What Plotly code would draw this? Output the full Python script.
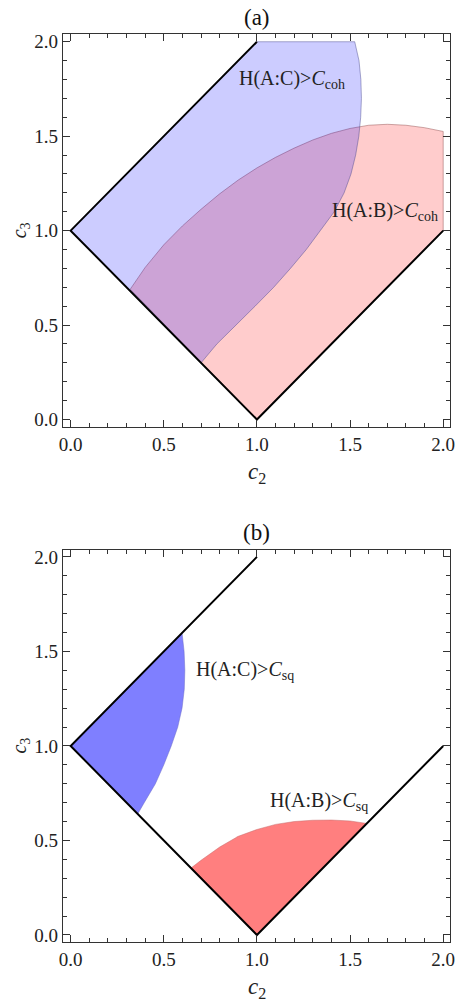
import plotly.graph_objects as go

# ---------------- data ----------------
# physical domain (vertices of the boundary lines)
domain_c2 = [1.0, 0.0, 1.0, 2.0]
domain_c3 = [2.0, 1.0, 0.0, 1.0]

# panel (a): boundary of H(A:B) > C_coh (upper curve, left -> right)
ab_coh_c2 = [0.32, 0.40, 0.50, 0.60, 0.70, 0.80, 0.90, 1.00, 1.10, 1.20, 1.30, 1.40,
             1.50, 1.60, 1.70, 1.80, 1.90, 2.00]
ab_coh_c3 = [0.69, 0.805, 0.925, 1.025, 1.113, 1.195, 1.268, 1.332, 1.388, 1.437, 1.48,
             1.515, 1.541, 1.558, 1.563, 1.558, 1.545, 1.525]

# panel (a): boundary of H(A:C) > C_coh (curve, top -> bottom)
ac_coh_c2 = [1.525, 1.548, 1.558, 1.561, 1.557, 1.547, 1.530, 1.505, 1.468, 1.415,
             1.34, 1.265, 1.18, 1.09, 0.99, 0.89, 0.785, 0.70]
ac_coh_c3 = [2.0, 1.9, 1.8, 1.7, 1.6, 1.5, 1.4, 1.3, 1.2, 1.1,
             1.0, 0.9, 0.8, 0.7, 0.6, 0.5, 0.4, 0.30]

# panel (b): boundary of H(A:C) > C_sq (curve, top -> bottom)
ac_sq_c2 = [0.598, 0.609, 0.613, 0.610, 0.598, 0.575, 0.54, 0.50, 0.455, 0.395, 0.36]
ac_sq_c3 = [1.598, 1.5, 1.4, 1.3, 1.2, 1.1, 1.0, 0.9, 0.8, 0.7, 0.64]

# panel (b): boundary of H(A:B) > C_sq (curve, left -> right)
ab_sq_c2 = [0.646, 0.70, 0.80, 0.90, 1.00, 1.10, 1.20, 1.30, 1.40, 1.50, 1.59]
ab_sq_c3 = [0.354, 0.395, 0.465, 0.522, 0.558, 0.585, 0.60, 0.607, 0.608, 0.603, 0.59]

tick_vals = [0.0, 0.5, 1.0, 1.5, 2.0]
tick_text = ["0.0", "0.5", "1.0", "1.5", "2.0"]

FONT = "Liberation Serif"

fig = go.Figure()

# ---------------- panel (a) ----------------
red_a_x = ab_coh_c2 + [domain_c2[3], domain_c2[2]] + [ab_coh_c2[0]]
red_a_y = ab_coh_c3 + [domain_c3[3], domain_c3[2]] + [ab_coh_c3[0]]
fig.add_trace(go.Scatter(x=red_a_x, y=red_a_y, fill="toself", mode="lines",
                         fillcolor="rgba(255,0,0,0.2)",
                         line=dict(color="rgba(140,70,70,0.45)", width=1),
                         xaxis="x", yaxis="y", hoverinfo="skip"))
blue_a_x = [domain_c2[1], domain_c2[0]] + ac_coh_c2 + [domain_c2[1]]
blue_a_y = [domain_c3[1], domain_c3[0]] + ac_coh_c3 + [domain_c3[1]]
fig.add_trace(go.Scatter(x=blue_a_x, y=blue_a_y, fill="toself", mode="lines",
                         fillcolor="rgba(0,0,255,0.2)",
                         line=dict(color="rgba(70,70,140,0.45)", width=1),
                         xaxis="x", yaxis="y", hoverinfo="skip"))

# ---------------- panel (b) ----------------
blue_b_x = [domain_c2[1]] + ac_sq_c2 + [domain_c2[1]]
blue_b_y = [domain_c3[1]] + ac_sq_c3 + [domain_c3[1]]
fig.add_trace(go.Scatter(x=blue_b_x, y=blue_b_y, fill="toself", mode="lines",
                         fillcolor="rgba(0,0,255,0.5)",
                         line=dict(color="rgba(110,110,200,0.5)", width=1),
                         xaxis="x2", yaxis="y2", hoverinfo="skip"))
red_b_x = ab_sq_c2 + [domain_c2[2]] + [ab_sq_c2[0]]
red_b_y = ab_sq_c3 + [domain_c3[2]] + [ab_sq_c3[0]]
fig.add_trace(go.Scatter(x=red_b_x, y=red_b_y, fill="toself", mode="lines",
                         fillcolor="rgba(255,0,0,0.5)",
                         line=dict(color="rgba(200,110,110,0.5)", width=1),
                         xaxis="x2", yaxis="y2", hoverinfo="skip"))

# black domain boundary lines
for xa, ya in (("x", "y"), ("x2", "y2")):
    fig.add_trace(go.Scatter(x=domain_c2, y=domain_c3, mode="lines",
                             line=dict(color="black", width=2),
                             xaxis=xa, yaxis=ya, hoverinfo="skip"))

# ---------------- axes ----------------
W, H = 460, 1005
xdom = [60 / W, 455 / W]
ydom_a = [1 - 427 / H, 1 - 31 / H]
ydom_b = [1 - 945 / H, 1 - 550 / H]

def axis_style(**kw):
    d = dict(showgrid=False, zeroline=False, showline=True, linecolor="#333",
             linewidth=1, mirror="ticks", ticks="inside", ticklen=7,
             tickcolor="#333", tickwidth=1,
             tickvals=tick_vals, ticktext=tick_text,
             tickfont=dict(family=FONT, size=19, color="#222"),
             minor=dict(ticks="inside", ticklen=4, dtick=0.1, tick0=0,
                        tickcolor="#333", tickwidth=1, showgrid=False),
             fixedrange=True)
    d.update(kw)
    return d

fig.update_layout(
    width=W, height=H, margin=dict(l=0, r=0, t=0, b=0),
    paper_bgcolor="white", plot_bgcolor="white", showlegend=False,
    xaxis=axis_style(domain=xdom, range=[-0.042, 2.037], anchor="y"),
    yaxis=axis_style(domain=ydom_a, range=[-0.042, 2.042], anchor="x"),
    xaxis2=axis_style(domain=xdom, range=[-0.042, 2.037], anchor="y2"),
    yaxis2=axis_style(domain=ydom_b, range=[-0.039, 2.038], anchor="x2"),
)

ann = []
C = dict(xanchor="center", yanchor="middle", showarrow=False)
ann.append(dict(text="(a)", x=1.0, xref="x", y=1 - 15 / H, yref="paper",
                font=dict(family=FONT, size=23, color="#111"), **C))
ann.append(dict(text="(b)", x=1.0, xref="x", y=1 - 533 / H, yref="paper",
                font=dict(family=FONT, size=23, color="#111"), **C))
for yc in (473, 991):
    ann.append(dict(text="<i>c</i><sub>2</sub>", x=1.0, xref="x", y=1 - yc / H,
                    yref="paper", font=dict(family=FONT, size=23, color="#222"), **C))
ann.append(dict(text="<i>c</i><sub>3</sub>", x=17 / W, xref="paper", y=1.0, yref="y",
                textangle=-90, font=dict(family=FONT, size=20, color="#222"), **C))
ann.append(dict(text="<i>c</i><sub>3</sub>", x=17 / W, xref="paper", y=1.0, yref="y2",
                textangle=-90, font=dict(family=FONT, size=20, color="#222"), **C))
lab_font = dict(family=FONT, size=20, color="#222")
ann.append(dict(text="H(A:C)><i>C</i><sub>coh</sub>", x=1.19, y=1.80, xref="x", yref="y",
                font=lab_font, **C))
ann.append(dict(text="H(A:B)><i>C</i><sub>coh</sub>", x=1.69, y=1.10, xref="x", yref="y",
                font=lab_font, **C))
ann.append(dict(text="H(A:C)><i>C</i><sub>sq</sub>", x=0.937, y=1.40, xref="x2", yref="y2",
                font=lab_font, **C))
ann.append(dict(text="H(A:B)><i>C</i><sub>sq</sub>", x=1.332, y=0.707, xref="x2", yref="y2",
                font=lab_font, **C))
fig.update_layout(annotations=ann)

fig.write_html("out.html")
